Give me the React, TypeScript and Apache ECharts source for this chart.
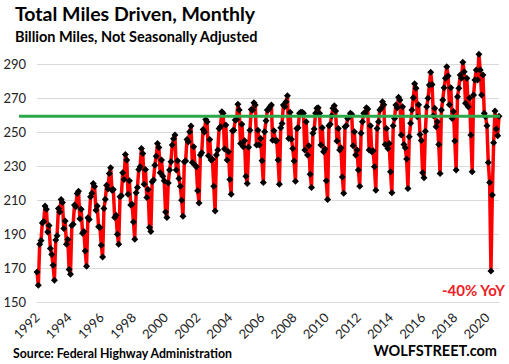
import React, { useEffect, useRef } from "react";
import * as echarts from "echarts";

// Billion miles, not seasonally adjusted, Jan..Dec of each year
const v1992 = [167.7, 159.8, 184.0, 186.2, 196.5, 197.4, 206.4, 204.6, 191.2, 195.0, 181.5, 178.0];
const v1993 = [171.6, 162.8, 186.5, 189.0, 205.0, 203.0, 210.3, 208.5, 193.2, 197.7, 184.0, 186.7];
const v1994 = [169.1, 166.3, 195.0, 195.8, 207.0, 206.0, 213.8, 215.2, 199.0, 204.5, 190.5, 191.5];
const v1995 = [180.0, 171.0, 199.5, 198.5, 211.9, 214.0, 219.7, 218.0, 204.0, 206.4, 194.2, 193.8];
const v1996 = [183.4, 176.5, 205.0, 210.5, 218.7, 216.5, 225.6, 229.0, 215.8, 216.2, 199.7, 201.1];
const v1997 = [189.9, 184.0, 211.9, 212.5, 226.0, 222.1, 236.8, 233.5, 213.4, 221.3, 207.0, 207.5];
const v1998 = [197.1, 186.9, 214.2, 217.4, 228.0, 229.5, 240.3, 237.4, 219.3, 228.0, 211.5, 216.2];
const v1999 = [193.8, 191.5, 220.7, 221.7, 230.5, 235.8, 243.3, 240.9, 226.0, 233.5, 224.0, 221.3];
const v2000 = [203.0, 199.7, 220.0, 227.6, 232.5, 242.3, 246.0, 248.2, 227.6, 233.1, 222.7, 218.1];
const v2001 = [209.9, 200.5, 232.5, 233.0, 245.6, 244.3, 250.1, 253.5, 232.0, 241.3, 230.5, 229.5];
const v2002 = [215.4, 208.3, 236.4, 237.8, 251.5, 250.0, 257.4, 256.0, 236.0, 245.6, 233.5, 233.9];
const v2003 = [218.1, 203.6, 236.4, 239.4, 252.1, 253.1, 261.9, 261.0, 240.0, 254.1, 233.5, 238.4];
const v2004 = [222.1, 213.4, 250.7, 251.1, 257.0, 257.4, 266.3, 262.9, 243.3, 254.5, 241.3, 244.8];
const v2005 = [224.0, 219.7, 241.0, 251.1, 263.3, 262.9, 267.2, 265.9, 242.3, 251.1, 242.3, 246.2];
const v2006 = [233.1, 220.3, 250.1, 256.6, 262.9, 263.3, 264.9, 265.9, 245.2, 250.7, 244.8, 245.0];
const v2007 = [233.5, 219.3, 252.5, 255.0, 265.9, 264.9, 267.8, 271.3, 246.2, 261.6, 245.8, 240.3];
const v2008 = [232.9, 221.1, 252.1, 252.5, 261.0, 261.6, 261.6, 261.0, 239.4, 256.0, 236.4, 241.9];
const v2009 = [225.2, 217.4, 249.2, 251.7, 261.0, 263.9, 264.3, 261.0, 242.3, 252.5, 238.4, 240.0];
const v2010 = [221.3, 210.3, 253.7, 254.5, 259.6, 263.9, 265.5, 262.3, 244.7, 252.1, 239.4, 240.7];
const v2011 = [223.6, 213.9, 253.1, 253.7, 258.0, 259.0, 261.0, 260.5, 241.9, 250.1, 236.4, 239.4];
const v2012 = [227.6, 218.1, 249.2, 256.0, 261.0, 261.0, 264.3, 263.5, 239.4, 253.7, 238.4, 239.0];
const v2013 = [229.5, 215.8, 252.1, 256.0, 262.9, 263.9, 267.8, 266.0, 242.7, 252.0, 240.3, 243.3];
const v2014 = [226.6, 214.2, 253.7, 258.0, 265.9, 264.3, 270.4, 268.8, 248.2, 264.9, 242.7, 240.7];
const v2015 = [234.1, 216.8, 247.2, 255.1, 262.9, 270.2, 278.4, 275.7, 259.0, 266.0, 248.6, 245.0];
const v2016 = [226.0, 223.1, 250.5, 264.9, 269.8, 277.6, 285.1, 278.0, 259.6, 263.9, 253.1, 256.0];
const v2017 = [242.7, 225.6, 262.9, 268.8, 276.0, 281.6, 288.4, 283.0, 266.0, 276.0, 258.0, 262.0];
const v2018 = [244.7, 227.6, 270.8, 275.7, 283.5, 281.6, 291.0, 285.5, 266.9, 281.6, 264.9, 270.0];
const v2019 = [248.2, 226.6, 271.7, 280.6, 286.5, 280.6, 295.7, 286.5, 271.7, 283.5, 261.0, 259.0];
const v2020 = [253.7, 232.1, 220.3, 168.3, 212.9, 243.7, 262.3, 251.7, 247.8, 259.2];

const yearly: [number, number[]][] = [
  [1992, v1992], [1993, v1993], [1994, v1994], [1995, v1995], [1996, v1996],
  [1997, v1997], [1998, v1998], [1999, v1999], [2000, v2000], [2001, v2001],
  [2002, v2002], [2003, v2003], [2004, v2004], [2005, v2005], [2006, v2006],
  [2007, v2007], [2008, v2008], [2009, v2009], [2010, v2010], [2011, v2011],
  [2012, v2012], [2013, v2013], [2014, v2014], [2015, v2015], [2016, v2016],
  [2017, v2017], [2018, v2018], [2019, v2019], [2020, v2020],
];

const categories = yearly.flatMap(([y, arr]) =>
  arr.map((_, i) => `${y}-${String(i + 1).padStart(2, "0")}`)
);
const values = yearly.flatMap(([, arr]) => arr);
const referenceLevel = values[values.length - 1];

const yMin = 150;
const yMax = 300;
const yStep = 20;

const TITLE = "Total Miles Driven, Monthly";
const SUBTITLE = "Billion Miles, Not Seasonally Adjusted";
const SOURCE = "Source: Federal Highway Administration";
const BRAND = "WOLFSTREET.com";
const NOTE = "-40% YoY";

const FONT = "Lato, 'Open Sans', 'DejaVu Sans', sans-serif";

export default function App() {
  const ref = useRef<HTMLDivElement>(null);

  useEffect(() => {
    if (!ref.current) return;
    const chart = echarts.init(ref.current, undefined, { renderer: "svg" });
    chart.setOption({
      animation: false,
      backgroundColor: "#ffffff",
      grid: { left: 37, right: 10, top: 47, bottom: 62, containLabel: false },
      xAxis: {
        type: "category",
        data: categories,
        boundaryGap: false,
        axisLine: { show: true, lineStyle: { color: "#d9d9d9", width: 1 } },
        axisTick: { show: false },
        splitLine: { show: false },
        axisLabel: {
          interval: (index: number) => index % 24 === 0,
          formatter: (v: string) => v.slice(0, 4),
          rotate: 45,
          margin: 13,
          fontFamily: FONT,
          fontSize: 13,
          color: "#222",
        },
      },
      yAxis: {
        type: "value",
        min: yMin,
        max: yMax,
        interval: yStep,
        axisLine: { show: false },
        axisTick: { show: false },
        axisLabel: {
          showMaxLabel: false,
          margin: 11,
          fontFamily: FONT,
          fontSize: 13,
          color: "#222",
        },
        splitLine: {
          show: true,
          showMaxLine: false,
          lineStyle: { color: "#d9d9d9", width: 1 },
        },
      },
      series: [
        {
          type: "line",
          data: values,
          lineStyle: { color: "#ff0000", width: 3.5 },
          symbol: "diamond",
          symbolSize: 7,
          showSymbol: true,
          showAllSymbol: true,
          itemStyle: { color: "#000000", borderWidth: 0 },
          z: 3,
        },
      ],
    });

    const yRef = chart.convertToPixel({ yAxisIndex: 0 }, referenceLevel) as number;

    chart.setOption({
      graphic: [
        {
          type: "line",
          z: 100,
          shape: { x1: 19, y1: yRef, x2: 500, y2: yRef },
          style: { stroke: "#2ba84a", lineWidth: 3 },
        },
        {
          type: "text",
          x: 15,
          y: 13.5,
          z: 100,
          style: {
            text: TITLE,
            fontFamily: FONT,
            fontWeight: "bold",
            fontSize: 19.5,
            fill: "#000",
            align: "left",
            verticalAlign: "middle",
          },
        },
        {
          type: "text",
          x: 15,
          y: 36.5,
          z: 100,
          style: {
            text: SUBTITLE,
            fontFamily: FONT,
            fontWeight: "bold",
            fontSize: 14.5,
            fill: "#000",
            align: "left",
            verticalAlign: "middle",
          },
        },
        {
          type: "text",
          x: 13,
          y: 353,
          z: 100,
          style: {
            text: SOURCE,
            fontFamily: FONT,
            fontWeight: "bold",
            fontSize: 12.3,
            fill: "#000",
            align: "left",
            verticalAlign: "middle",
          },
        },
        {
          type: "text",
          x: 497,
          y: 350,
          z: 100,
          style: {
            text: BRAND,
            fontFamily: FONT,
            fontWeight: "bold",
            fontSize: 14.5,
            fill: "#000",
            align: "right",
            verticalAlign: "middle",
          },
        },
        {
          type: "text",
          x: 505,
          y: 290,
          z: 100,
          style: {
            text: NOTE,
            fontFamily: FONT,
            fontWeight: "bold",
            fontSize: 15,
            fill: "#ee1c25",
            align: "right",
            verticalAlign: "middle",
          },
        },
      ],
    });

    return () => {
      chart.dispose();
    };
  }, []);

  return (
    <div
      ref={ref}
      style={{ position: "absolute", left: 0, top: 0, width: 509, height: 364 }}
    />
  );
}
